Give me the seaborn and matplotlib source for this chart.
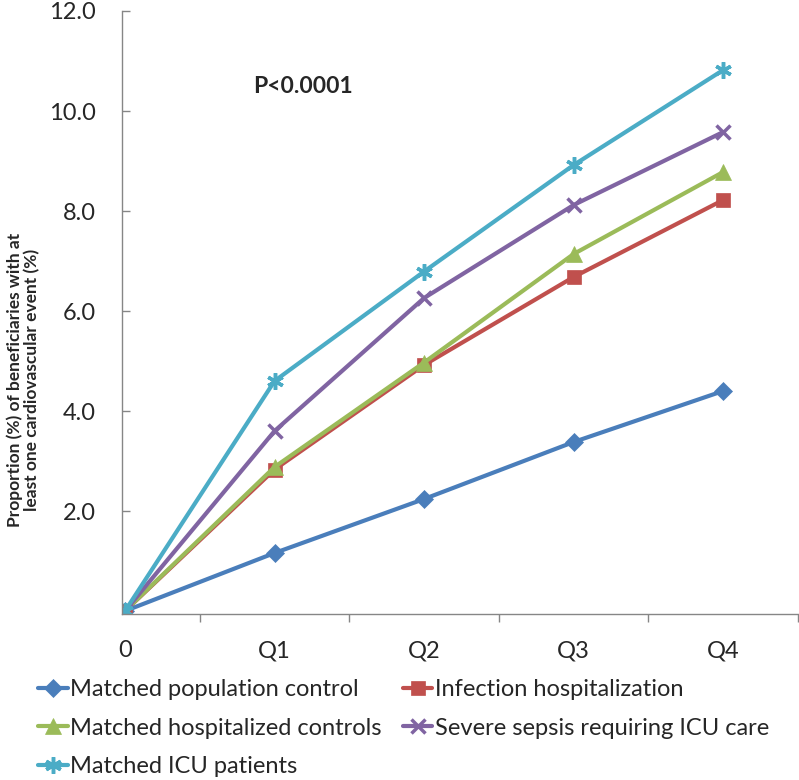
import pandas as pd
import matplotlib.pyplot as plt
import seaborn as sns

# Chart data
quarters = ['0', 'Q1', 'Q2', 'Q3', 'Q4']
series_names = ['Matched population control', 'Infection hospitalization',
                'Matched hospitalized controls', 'Severe sepsis requiring ICU care',
                'Matched ICU patients']
pop_control = [0.0, 1.16, 2.24, 3.38, 4.40]
infection_hosp = [0.0, 2.83, 4.92, 6.68, 8.22]
hosp_controls = [0.0, 2.88, 4.97, 7.14, 8.78]
severe_sepsis = [0.0, 3.60, 6.26, 8.12, 9.58]
icu_patients = [0.0, 4.60, 6.79, 8.92, 10.82]
y_ticks = [2, 4, 6, 8, 10, 12]

colors = ['#4A7EBB', '#C0504D', '#9BBB59', '#8064A2', '#4BACC6']
markers = ['D', 's', '^', 'x', (6, 2, 0)]
msizes = [9, 10, 11, 10, 12]

# Long-form table for seaborn
rows = []
for name, vals in zip(series_names, [pop_control, infection_hosp, hosp_controls,
                                     severe_sepsis, icu_patients]):
    for q, v in zip(quarters, vals):
        rows.append({'Quarter': q, 'Value': v, 'Group': name})
df = pd.DataFrame(rows)

sns.set_style('white')
plt.rcParams['font.family'] = ['Lato', 'DejaVu Sans']

fig = plt.figure(figsize=(7.99, 7.80), dpi=100)
ax = fig.add_axes([0.1527, 0.2128, 0.8460, 0.7731])

for name, col, mk, ms in zip(series_names, colors, markers, msizes):
    sub = df[df['Group'] == name]
    sns.lineplot(data=sub, x='Quarter', y='Value', ax=ax, color=col, marker=mk,
                 markersize=ms, markeredgewidth=2.5 if mk in ('x', (6, 2, 0)) else 0.5,
                 markeredgecolor=col, linewidth=3, label=name, sort=False)

ax.set_ylim(-0.06, 12)
ax.set_xlim(-0.02, 4.5)
ax.set_yticks(y_ticks)
ax.set_yticklabels([f'{t:.1f}' for t in y_ticks], fontsize=17)
ax.set_xticks(range(len(quarters)))
ax.set_xticklabels(quarters, fontsize=17)
ax.set_xticks([0.5, 1.5, 2.5, 3.5, 4.5], minor=True)
ax.tick_params(axis='x', which='major', length=0, pad=19)
ax.tick_params(axis='x', which='minor', length=6, width=1, color='#868686',
               direction='out', bottom=True)
ax.tick_params(axis='y', which='major', length=6, width=1, color='#868686',
               direction='in', left=True, pad=19)

for side in ['top', 'right']:
    ax.spines[side].set_visible(False)
for side in ['left', 'bottom']:
    ax.spines[side].set_color('#868686')
    ax.spines[side].set_linewidth(1)

ax.set_xlabel('')
ax.set_ylabel('Proportion (%) of beneficiaries with at\nleast one cardiovascular event (%)',
              fontsize=12.5, fontweight='bold', linespacing=1.1)
ax.yaxis.set_label_coords(-0.121, 0.388)

ax.text(1.19, 10.5, 'P<0.0001', fontsize=16.5, fontweight='bold', ha='center', va='center')

handles, labels = ax.get_legend_handles_labels()
order = [0, 2, 4, 1, 3]
ax.legend([handles[i] for i in order], [labels[i] for i in order],
          loc='upper left', bbox_to_anchor=(-0.138, -0.092),
          ncol=2, frameon=False, fontsize=17, handlelength=1.25, handletextpad=0.1,
          columnspacing=0.9, labelspacing=0.75, borderaxespad=0)

fig.savefig('out.png', dpi=100)
